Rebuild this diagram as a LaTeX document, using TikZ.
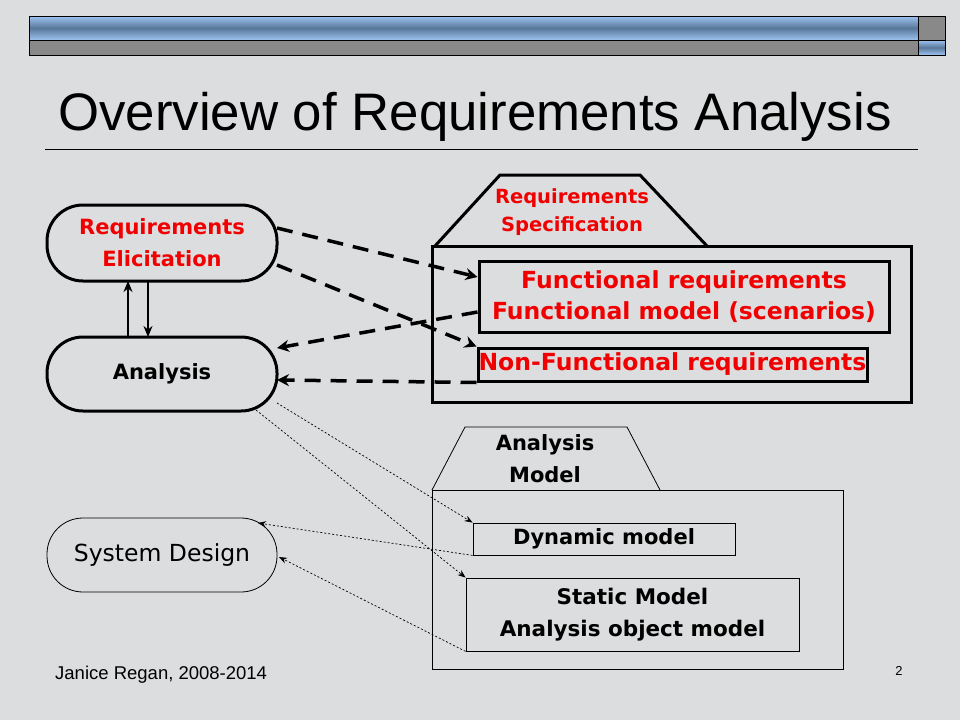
\documentclass[tikz,border=0pt]{standalone}
\usepackage{fontspec}
\setmainfont{Liberation Sans}
\newfontfamily\verd{DejaVu Sans}
\usetikzlibrary{arrows.meta}
\definecolor{bg}{HTML}{DCDDDE}
\definecolor{bluelt}{HTML}{9DC3F0}
\definecolor{bluedk}{HTML}{58789A}
\definecolor{barg}{HTML}{898989}
\definecolor{rd}{HTML}{F00000}
\tikzset{
 pill/.style={draw,rounded corners=36pt,line width=3pt},
 thinpill/.style={draw,rounded corners=36pt,line width=0.8pt},
 thick3/.style={draw,line width=3pt},
 dashar/.style={line width=3.5pt,dash pattern=on 16pt off 10pt,-{Stealth[length=12pt,width=12pt]}},
 solar/.style={line width=2.5pt,-{Stealth[length=11pt,width=9pt]}},
 dotar/.style={line width=0.7pt,dash pattern=on 2pt off 2pt,-{Stealth[length=8pt,width=6pt]}},
 lbl/.style={font=\verd\bfseries\fontsize{23.5}{31}\selectfont,align=center,text=rd},
 lblk/.style={font=\verd\bfseries\fontsize{23.5}{31}\selectfont,align=center}
}
\begin{document}
\begin{tikzpicture}[x=1pt,y=-1pt]
\fill[bg] (0,0) rectangle (960,720);
\useasboundingbox (0,0) rectangle (960,720);
% header bar
\shade[top color=bluelt,bottom color=bluelt,middle color=bluedk] (29,16) rectangle (918,40);
\fill[barg] (918,16) rectangle (945,40);
\fill[barg] (29,40) rectangle (918,55);
\shade[top color=bluelt,bottom color=bluelt,middle color=bluedk] (918,40) rectangle (945,55);
\draw[line width=0.8pt] (29,16) rectangle (945,55) (29,40)--(945,40) (918,16)--(918,55);
% title
\node[anchor=base west,inner sep=0,font=\fontsize{52.8}{56}\selectfont] (title) at (58,130) {Overview of Requirements Analysis};
\draw[line width=0.6pt] (45,149) -- (918,149);
% left nodes
\node[pill,minimum width=230pt,minimum height=76pt,lbl,font=\verd\bfseries\fontsize{21}{32}\selectfont] (re) at (162,243) {Requirements\\Elicitation};
\node[pill,minimum width=230pt,minimum height=74pt,lblk,font=\verd\bfseries\fontsize{21}{32}\selectfont] (an) at (162,374) {Analysis};
\node[thinpill,fill=bg,minimum width=230pt,minimum height=74pt,font=\verd\fontsize{23.5}{28}\selectfont] (sd) at (162,555) {System Design};
\draw[solar] (128,337) -- (128,281);
\draw[solar] (148,281) -- (148,337);
% spec
\draw[line width=3pt] (435,246) -- (500,175) -- (640,175) -- (707,246);
\node[lbl,font=\verd\bfseries\fontsize{19.5}{28}\selectfont] (spt) at (572,212) {Requirements\\Specification};
\draw[thick3] (432,246) rectangle (911,402);
\node[thick3,minimum width=410pt,minimum height=71pt,inner sep=0,lbl] (fr) at (684,296.5) {Functional requirements\\Functional model (scenarios)};
\node[thick3,minimum width=389pt,minimum height=33pt,inner sep=0,lbl] (nf) at (672.5,364.5) {Non-Functional requirements};
\draw[dashar] (277,228) -- (fr.west|-0,277);
\draw[dashar] (277,265) -- (nf.north west);
\draw[dashar] (fr.west|-0,312) -- (277,348);
\draw[dashar] (nf.south west) -- (277,380);
% analysis model
\draw[line width=0.8pt] (432,490) -- (465,427) -- (627,427) -- (660,490);
\node[lblk,font=\verd\bfseries\fontsize{21}{32}\selectfont] (amt) at (545,459) {Analysis\\Model};
\draw[line width=0.8pt] (432,490) rectangle (843,669);
\node[draw,line width=0.8pt,minimum width=262pt,minimum height=32pt,inner sep=0,lblk,font=\verd\bfseries\fontsize{21}{32}\selectfont] (dm) at (604,539) {Dynamic model};
\node[draw,line width=0.8pt,minimum width=333pt,minimum height=73pt,inner sep=0,lblk,font=\verd\bfseries\fontsize{21.5}{32}\selectfont] (sm) at (632.5,614.5) {Static Model\\Analysis object model};
\draw[dotar] (277,403) -- (dm.north west);
\draw[dotar] (256,410) -- (sm.north west);
\draw[dotar] (dm.south west) -- (258,523);
\draw[dotar] (sm.south west) -- (279,557);
% footer
\node[anchor=base west,inner sep=0,font=\fontsize{18.5}{20}\selectfont] (ft) at (55,679) {Janice Regan, 2008-2014};
\node[anchor=base,inner sep=0,font=\fontsize{13}{14}\selectfont] (pg) at (899,675) {2};
\end{tikzpicture}
\end{document}
